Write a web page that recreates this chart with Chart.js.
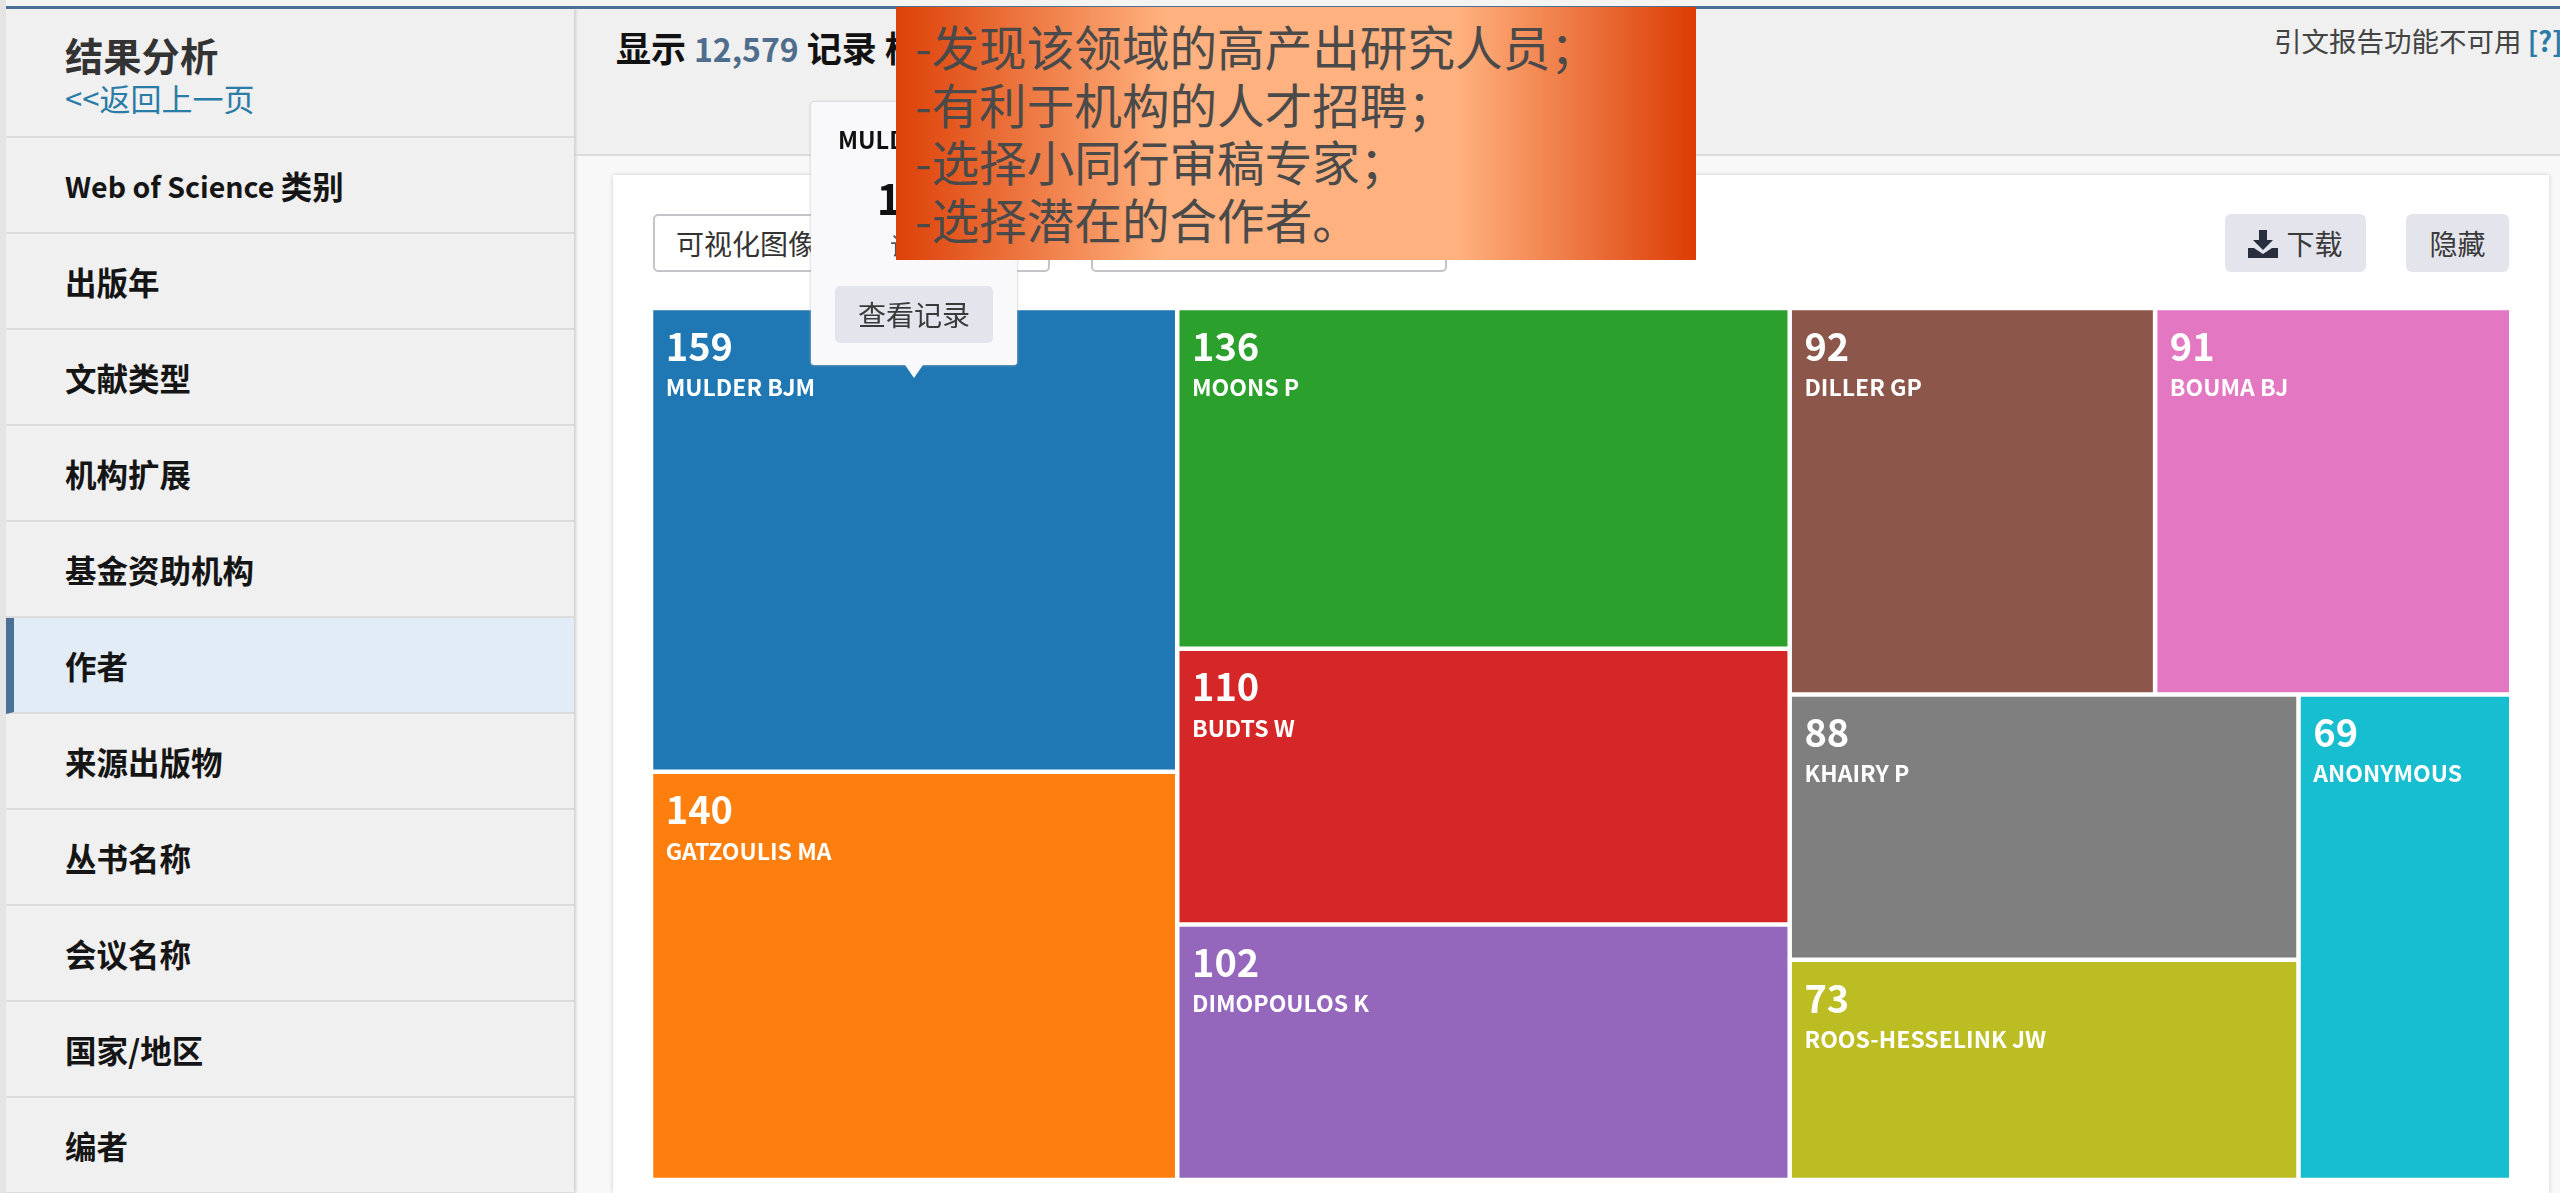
<!DOCTYPE html>
<html lang="zh"><head><meta charset="utf-8"><title>结果分析</title>
<script src="https://cdn.jsdelivr.net/npm/chart.js@4"></script>
<style>
*{box-sizing:border-box}
html,body{margin:0;padding:0;width:2560px;height:1193px;overflow:hidden;background:#f8f8f8;font-family:"Noto Sans CJK SC","Noto Sans",sans-serif;color:#222}
.abs{position:absolute}
#leftstrip{left:0;top:0;width:6px;height:1193px;background:#e4e4e4}
#topline{left:6px;top:6px;width:2554px;height:3px;background:#4a7096;z-index:3}
#topwhite{left:0;top:0;width:2560px;height:6px;background:#f4f4f2}
#side{left:6px;top:9px;width:568px;height:1184px;background:#f0f0f0;box-shadow:2px 0 3px #cfcfcf}
.row{position:absolute;left:0;width:568px;border-bottom:2px solid #dcdcdc;font-weight:700;font-size:31.5px;display:flex;align-items:center;padding-left:59px;color:#151515;white-space:pre}
.row.on{background:#e2ecf6;border-left:8px solid #4a7096;padding-left:51px}
.row i{font-style:normal;font-size:28.5px}
#h1{left:65px;top:30px;font-size:38.3px;font-weight:700;color:#333;line-height:50px}
#back{left:65px;top:76px;font-size:31px;color:#2a7ba5;line-height:44px}
#head{left:574px;top:9px;width:1986px;height:147px;background:#f0f0f0;border-bottom:2px solid #ddd}
#count{left:616px;top:24px;font-size:35px;font-weight:700;line-height:46px;color:#111;white-space:pre}
#count span{color:#4f6d8c;font-size:32px}
#cite{left:2274px;top:20px;font-size:27.5px;line-height:40px;color:#444;white-space:pre}
#cite b{color:#2a7ba5}
#card{left:613px;top:175px;width:1936px;height:1018px;background:#fff;box-shadow:0 0 4px #c8c8c8}
.sel{top:214px;height:58px;background:#fff;border:2px solid #c4c4c8;border-radius:5px;font-size:28px;line-height:54px;padding-left:21px;color:#333}
.btn{top:214px;height:58px;background:#e3e4ec;border-radius:6px;font-size:28px;line-height:58px;color:#3a3a3a;text-align:center}
#chart{position:absolute;left:651px;top:308px;width:1858px;height:872px}
#pop{left:811px;top:102px;width:206px;height:263px;background:#f9f9fb;border-radius:3px;box-shadow:0 0 3px #bbb;z-index:4;text-align:center;color:#111}
#pop .n{position:absolute;left:27px;top:20px;font-size:23.5px;font-weight:700;white-space:nowrap}
#pop .v{position:absolute;left:0;width:206px;top:70px;font-size:42px;font-weight:700;line-height:50px}
#pop .l{position:absolute;left:0;width:206px;top:125px;font-size:24px;color:#555}
#pop .b{position:absolute;left:24px;top:184px;width:158px;height:57px;background:#e3e4ec;border-radius:5px;font-size:28px;line-height:57px;color:#3a3a3a}
#arrow{left:903px;top:362px;width:22px;height:16px;background:#f9f9fb;clip-path:polygon(0 0,100% 0,50% 100%);z-index:5}
#note{left:896px;top:7px;width:800px;height:253px;z-index:6;background:linear-gradient(90deg,#dd4108 0%,#ffb27f 34%,#ffb27f 70%,#dc3c04 100%);padding:10px 0 0 19px;font-size:47.6px;line-height:57.5px;color:#4a4a4a;white-space:pre;font-weight:400}
</style></head><body>
<div class="abs" id="topwhite"></div><div class="abs" id="leftstrip"></div>
<div class="abs" id="head"></div>
<div class="abs" id="side"></div>
<div class="abs" id="topline"></div>
<div class="abs" id="h1" style="z-index:2">结果分析</div>
<div class="abs" id="back" style="z-index:2">&lt;&lt;返回上一页</div>
<div class="abs" id="navs" style="left:6px;top:0;z-index:2"></div>
<div class="abs" id="count" style="z-index:2">显示 <span>12,579</span> 记录 根</div>
<div class="abs" id="cite" style="z-index:2">引文报告功能不可用 <b>[?]</b></div>
<div class="abs" id="card"></div>
<div class="abs sel" style="left:653px;width:397px">可视化图像</div>
<div class="abs sel" style="left:1091px;width:356px"></div>
<div class="abs btn" style="left:2225px;width:141px;padding-left:38px">下载
<svg style="position:absolute;left:23px;top:16px" width="30" height="28" viewBox="0 0 30 28"><path fill="#2a2f3f" d="M11 0h8v10h6L15 20 5 10h6zM0 18h6l9 6 9-6h6v10H0z"/></svg></div>
<div class="abs btn" style="left:2406px;width:103px">隐藏</div>
<canvas id="chart" width="1858" height="872"></canvas>
<div class="abs" id="pop"><div class="n">MULDER BJM</div><div class="v">159</div><div class="l">记录</div><div class="b">查看记录</div></div>
<div class="abs" id="arrow"></div>
<div class="abs" id="note">-发现该领域的高产出研究人员；
-有利于机构的人才招聘；
-选择小同行审稿专家；
-选择潜在的合作者。</div>
<script>
const navLabels = ["Web of Science 类别","出版年","文献类型","机构扩展","基金资助机构","作者","来源出版物","丛书名称","会议名称","国家/地区","编者"];
const activeNav = "作者";
const authors = ["MULDER BJM","GATZOULIS MA","MOONS P","BUDTS W","DIMOPOULOS K","DILLER GP","BOUMA BJ","KHAIRY P","ROOS-HESSELINK JW","ANONYMOUS"];
const counts  = [159,140,136,110,102,92,91,88,73,69];
const colors  = ["#1f77b4","#ff7f0e","#2ca02c","#d62728","#9467bd","#8c564b","#e377c2","#7f7f7f","#bcbd22","#17becf"];
// Treemap nesting by author index: "h" splits across, "v" splits down.
const tree = {d:"h",c:[{d:"v",c:[0,1]},{d:"v",c:[2,3,4]},{d:"v",c:[{d:"h",c:[5,6]},{d:"h",c:[{d:"v",c:[7,8]},9]}]}]};

// side navigation rows
const navBox = document.getElementById('navs');
const hdr = document.createElement('div');
hdr.className='row'; hdr.style.top='9px'; hdr.style.height='129px'; navBox.appendChild(hdr);
navLabels.forEach((t,i)=>{
  const r=document.createElement('div');
  r.className='row'+(t===activeNav?' on':'');
  r.style.top=(138+i*96)+'px'; r.style.height='96px';
  r.innerHTML=t.replace(/^([A-Za-z ]+ )/,'<i>$1</i>');
  navBox.appendChild(r);
});

const weight = n => typeof n==='number' ? counts[n] : n.c.reduce((s,k)=>s+weight(k),0);
const cells = [];
(function place(n,x0,x1,y0,y1){
  if(typeof n==='number'){cells[n]={x:x0,y:y0,x1,y1,v:counts[n],name:authors[n]};return;}
  const tot=weight(n); let p=0;
  n.c.forEach(k=>{
    const a=p/tot, b=(p+weight(k))/tot; p+=weight(k);
    if(n.d==='h') place(k,x0+(x1-x0)*a,x0+(x1-x0)*b,y0,y1);
    else place(k,x0,x1,y0+(y1-y0)*a,y0+(y1-y0)*b);
  });
})(tree,0,weight(tree),0,1);

class TreemapController extends Chart.DatasetController{
  update(mode){const m=this._cachedMeta;this.updateElements(m.data,0,m.data.length,mode);}
  updateElements(els,start,count,mode){
    const m=this._cachedMeta, gap=this.getDataset().cellGap, data=this.getDataset().data;
    for(let i=start;i<start+count;i++){
      const d=data[i];
      const l=m.xScale.getPixelForValue(d.x)+gap, r=m.xScale.getPixelForValue(d.x1)-gap;
      const t=m.yScale.getPixelForValue(d.y)+gap, b=m.yScale.getPixelForValue(d.y1)-gap;
      this.updateElement(els[i],i,{x:(l+r)/2,y:t,base:b,width:r-l,height:b-t,horizontal:false,
        borderSkipped:{top:false,bottom:false,left:false,right:false},enableBorderRadius:false,inflateAmount:0,
        options:this.resolveDataElementOptions(i,mode)},mode);
    }
  }
}
TreemapController.id='treemap';
TreemapController.defaults={dataElementType:'bar'};
Chart.register(TreemapController);

const cellLabels={id:'cellLabels',afterDatasetsDraw(chart){
  const ctx=chart.ctx, meta=chart.getDatasetMeta(0), data=chart.data.datasets[0].data;
  ctx.save();ctx.fillStyle='#fff';ctx.textAlign='left';ctx.textBaseline='middle';
  meta.data.forEach((el,i)=>{
    const left=el.x-el.width/2+12.5;
    ctx.font='700 38px "Noto Sans CJK SC"';ctx.fillText(String(data[i].v),left,el.y+36);
    ctx.font='700 23px "Noto Sans CJK SC"';ctx.fillText(data[i].name,left,el.y+77);
  });
  ctx.restore();
}};

new Chart(document.getElementById('chart'),{
  type:'treemap',
  data:{labels:authors,datasets:[{data:cells,backgroundColor:colors,borderWidth:0,inflateAmount:0,borderSkipped:false,cellGap:2.25,clip:0}]},
  options:{responsive:false,animation:false,devicePixelRatio:1,
    layout:{padding:0},
    plugins:{legend:{display:false},tooltip:{enabled:false},title:{display:false}},
    scales:{
      x:{type:'linear',display:false,min:0,max:1055.7},
      y:{type:'linear',display:false,min:0,max:1,reverse:true}
    }},
  plugins:[cellLabels]
});
</script>
</body></html>
